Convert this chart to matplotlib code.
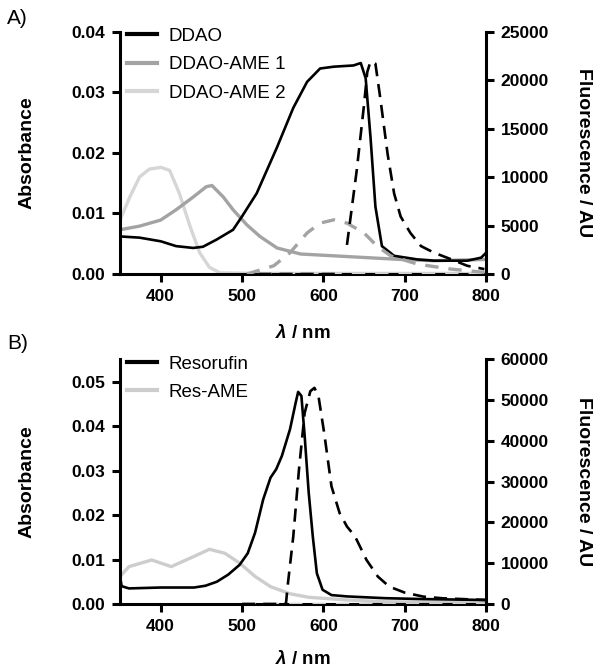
import numpy as np
import matplotlib
matplotlib.use("Agg")
import matplotlib.pyplot as plt

plt.rcParams['font.family'] = ['Liberation Sans', 'DejaVu Sans']
plt.rcParams['mathtext.fontset'] = 'custom'
plt.rcParams['mathtext.it'] = 'Liberation Sans:italic:bold'
plt.rcParams['mathtext.rm'] = 'Liberation Sans:bold'

# ---- panel A data ----
ddao_wl = [350, 374, 400, 419, 440, 452, 469, 489, 500, 518, 543, 563, 580, 596, 613,
           637, 646, 652, 658, 664, 672, 687, 716, 736, 777, 794, 800]
ddao_abs = [0.0062, 0.0060, 0.0054, 0.0046, 0.0043, 0.0045, 0.0057, 0.0073, 0.0095, 0.0133,
            0.0209, 0.0274, 0.0317, 0.0339, 0.0342, 0.0344, 0.0348, 0.0323, 0.0225, 0.0111,
            0.0046, 0.0030, 0.0024, 0.0022, 0.0022, 0.0027, 0.0035]

ame1_wl = [350, 374, 400, 419, 440, 456, 463, 477, 489, 506, 522, 543, 572, 613, 654,
           695, 736, 800]
ame1_abs = [0.0073, 0.0079, 0.0089, 0.0106, 0.0127, 0.0144, 0.0146, 0.0127, 0.0106, 0.0081,
            0.0062, 0.0043, 0.0033, 0.0030, 0.0027, 0.0024, 0.0022, 0.0024]

ame2_wl = [350, 362, 374, 386, 400, 411, 423, 436, 448, 460, 473, 520, 600, 700, 800]
ame2_abs = [0.0089, 0.0127, 0.0160, 0.0173, 0.0176, 0.0171, 0.0133, 0.0079, 0.0035, 0.0011,
            0.0002, 0.0001, 0.0001, 0.0001, 0.0001]

# nan = gap between the flat baseline part and the emission band
ddao_fl_wl = [520, 560, 600, 622, 626, 629, 641, 650, 654, 658, 664, 670, 679, 687, 695,
              707, 720, 736, 757, 777, 798]
ddao_fl = [0, 0, 0, 0, np.nan, 3000, 10670, 17445, 20833, 21917, 21680, 18120, 12364, 8300,
           5928, 4234, 2880, 2200, 1524, 847, 508]

ame1_fl_wl = [506, 539, 559, 580, 596, 613, 629, 650, 666, 683, 716, 757, 798]
ame1_fl = [0, 847, 2200, 4234, 5250, 5590, 5250, 4234, 2880, 1863, 1016, 508, 170]

ame2_fl_wl = [520, 600, 700, 800]
ame2_fl = [0, 0, 0, 0]

# ---- panel B data ----
res_wl = [350, 352, 361, 400, 441, 455, 469, 483, 497, 507, 516, 526, 535, 542, 549, 559,
          566, 569, 573, 577, 582, 587, 592, 599, 610, 629, 676, 723, 799]
res_abs = [0.0062, 0.0040, 0.0035, 0.0037, 0.0037, 0.0041, 0.0050, 0.0066, 0.0088, 0.0114,
           0.0160, 0.0235, 0.0284, 0.0303, 0.0333, 0.0393, 0.0453, 0.0477, 0.0468, 0.0378,
           0.0250, 0.0152, 0.0069, 0.0032, 0.0020, 0.0017, 0.0013, 0.0011, 0.0009]

resame_wl = [350, 361, 389, 413, 441, 460, 479, 497, 516, 535, 559, 582, 629, 676, 799]
resame_abs = [0.0062, 0.0084, 0.0099, 0.0084, 0.0107, 0.0123, 0.0114, 0.0092, 0.0062, 0.0039,
              0.0023, 0.0015, 0.0009, 0.0005, 0.0003]

res_fl_wl = [500, 530, 554, 556, 563, 570, 577, 584, 589, 594, 601, 610, 620, 629, 639, 653,
             667, 681, 700, 723, 747, 799]
res_fl = [0, 0, 0, 4262, 16557, 32950, 46885, 52213, 53033, 50983, 41967, 28852, 22295,
          19016, 16557, 10820, 6721, 4262, 2787, 1803, 1393, 984]

resame_fl_wl = [500, 600, 700, 800]
resame_fl = [0, 0, 0, 0]

C_AME1 = '#a3a3a3'
C_AME2 = '#d6d6d6'
C_RESAME = '#cdcdcd'
LW_K = 1.9
LW_G = 2.4


def style_axes(ax, ax2, ymax, yticks, rmax, rticks, xlab_y):
    for a in (ax, ax2):
        a.spines['top'].set_visible(False)
        for s in a.spines.values():
            s.set_linewidth(2.2)
        a.tick_params(width=2.2, length=6, labelsize=12.5, direction='out', pad=4.5)
    ax.spines['right'].set_visible(False)
    ax2.spines['left'].set_visible(False)
    ax2.spines['bottom'].set_visible(False)
    ax.set_xlim(350, 800)
    ax.set_xticks([400, 500, 600, 700, 800])
    ax.set_ylim(0, ymax)
    ax.set_yticks(yticks)
    ax.set_yticklabels(['%.2f' % t for t in yticks], fontweight='bold')
    ax.set_xticklabels(['400', '500', '600', '700', '800'], fontweight='bold')
    ax2.set_ylim(0, rmax)
    ax2.set_yticks(rticks)
    ax2.set_yticklabels([str(t) for t in rticks], fontweight='bold')
    ax.set_ylabel('Absorbance', fontsize=14, fontweight='bold')
    ax.yaxis.set_label_coords(-0.232, 0.5)
    ax2.set_ylabel('Fluorescence / AU', fontsize=14, fontweight='bold', rotation=270,
                   va='center')
    ax2.yaxis.set_label_coords(1.265, 0.5)
    ax.set_xlabel(r'$\lambda$ / nm', fontsize=13.5, fontweight='bold')
    ax.xaxis.set_label_coords(0.5, xlab_y)


def add_legend(ax, handles, labels):
    leg = ax.legend(handles, labels, loc='upper left', bbox_to_anchor=(-0.028, 1.085),
                    frameon=False, fontsize=13.5, handlelength=1.6, handletextpad=0.65,
                    labelspacing=0.6)
    for line in leg.get_lines():
        line.set_linewidth(3)
    return leg


fig = plt.figure(figsize=(6.04, 6.69), dpi=100)

# Panel A
axA = fig.add_axes([0.1987, 0.5904, 0.6060, 0.3625])
axA2 = axA.twinx()
axA.plot(ame2_wl, ame2_abs, color=C_AME2, lw=LW_G, label='DDAO-AME 2', zorder=1)
axA.plot(ame1_wl, ame1_abs, color=C_AME1, lw=LW_G, label='DDAO-AME 1', zorder=2)
axA.plot(ddao_wl, ddao_abs, color='black', lw=LW_K, label='DDAO', zorder=3)
axA2.plot(ame2_fl_wl, ame2_fl, color=C_AME2, lw=LW_G, ls=(0, (4, 3)))
axA2.plot(ame1_fl_wl, ame1_fl, color=C_AME1, lw=LW_G, ls=(0, (4, 3)))
axA2.plot(ddao_fl_wl, ddao_fl, color='black', lw=LW_K, ls=(0, (5, 3)))
style_axes(axA, axA2, 0.04, [0, 0.01, 0.02, 0.03, 0.04], 25000,
           [0, 5000, 10000, 15000, 20000, 25000], -0.205)
h, l = axA.get_legend_handles_labels()
add_legend(axA, [h[2], h[1], h[0]], [l[2], l[1], l[0]])

# Panel B
axB = fig.add_axes([0.1987, 0.0972, 0.6060, 0.3655])
axB2 = axB.twinx()
axB.plot(resame_wl, resame_abs, color=C_RESAME, lw=LW_G, label='Res-AME', zorder=1)
axB.plot(res_wl, res_abs, color='black', lw=LW_K, label='Resorufin', zorder=3)
axB2.plot(resame_fl_wl, resame_fl, color=C_RESAME, lw=LW_G, ls=(0, (4, 3)))
axB2.plot(res_fl_wl, res_fl, color='black', lw=LW_K, ls=(0, (5, 3)))
style_axes(axB, axB2, 0.055, [0, 0.01, 0.02, 0.03, 0.04, 0.05], 60000,
           [0, 10000, 20000, 30000, 40000, 50000, 60000], -0.19)
h, l = axB.get_legend_handles_labels()
add_legend(axB, [h[1], h[0]], [l[1], l[0]])

fig.text(0.012, 0.973, 'A)', fontsize=15, va='center', ha='left')
fig.text(0.012, 0.487, 'B)', fontsize=15, va='center', ha='left')

fig.savefig('out.png', dpi=100)
